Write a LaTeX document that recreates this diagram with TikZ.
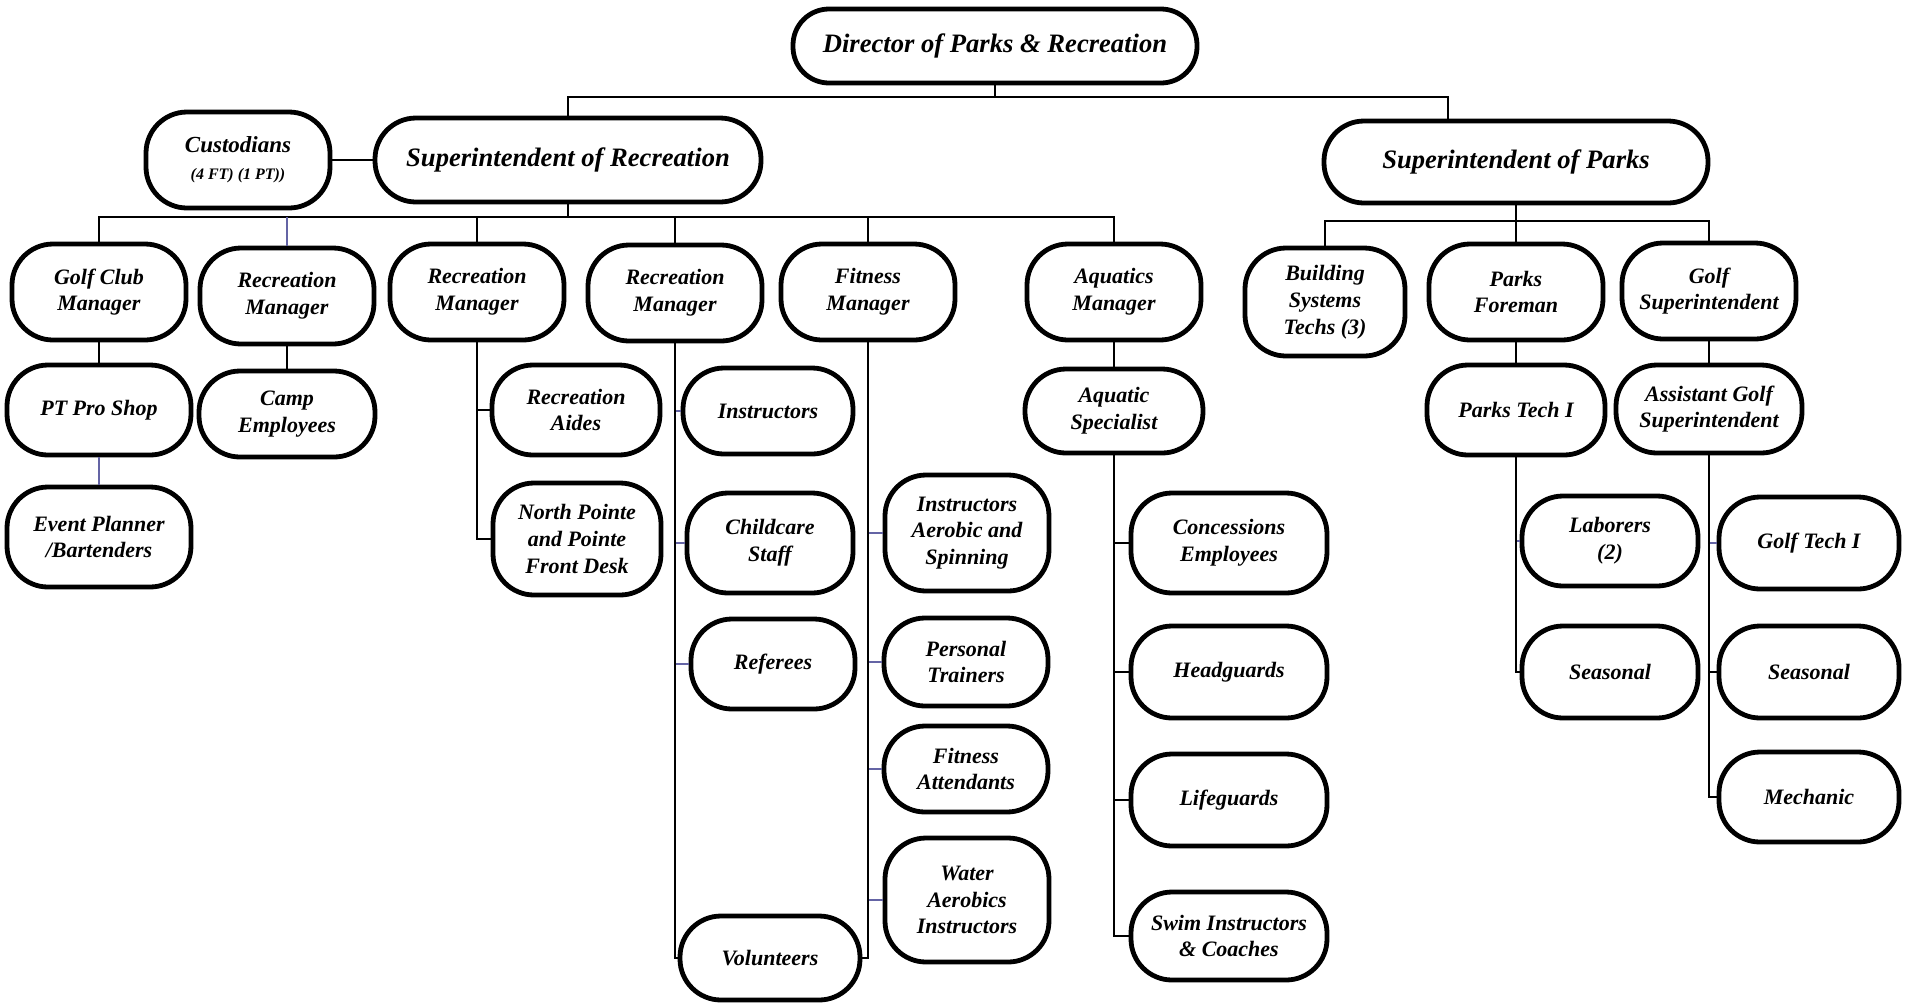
\documentclass[tikz,border=0pt]{standalone}
\usepackage{fontspec}
\setmainfont{Liberation Serif}
\definecolor{linkblue}{RGB}{100,100,165}

\begin{document}
\begin{tikzpicture}[x=0.5pt, y=-0.5pt,
box/.style={draw, line width=2.4pt, rounded corners=20.5pt, align=center, inner sep=1pt,
  font=\bfseries\itshape\fontsize{11}{13.4}\selectfont},
head/.style={box, rounded corners=18pt, font=\bfseries\itshape\fontsize{13.3}{16}\selectfont},
link/.style={line width=0.9pt},
softlink/.style={link, draw=linkblue}]

\useasboundingbox (0,0) rectangle (1908,1003);

% top
\node[head, minimum width=202pt, minimum height=37pt] (director) at (995,46) {Director of Parks \& Recreation};
\node[head, rounded corners=20.5pt, minimum width=193pt, minimum height=42pt] (suprec) at (568,160) {Superintendent of Recreation};
\node[head, rounded corners=20pt, minimum width=192pt, minimum height=41pt] (supparks) at (1516,162) {Superintendent of Parks};
\node[box, minimum width=92pt, minimum height=48pt] (cust) at (238,160) {\fontsize{11.5}{12}\selectfont Custodians\\{\fontsize{8}{9}\selectfont (4 FT) (1 PT))}};

% managers
\node[box, minimum width=87pt, minimum height=48pt] (golfmgr) at (99,292) {Golf Club\\Manager};
\node[box, minimum width=87pt, minimum height=48pt] (recmgrA) at (287,296) {Recreation\\Manager};
\node[box, minimum width=87pt, minimum height=48pt] (recmgrB) at (477,292) {Recreation\\Manager};
\node[box, minimum width=87pt, minimum height=48pt] (recmgrC) at (675,293) {Recreation\\Manager};
\node[box, minimum width=87pt, minimum height=48pt] (fitmgr) at (868,292) {Fitness\\Manager};
\node[box, minimum width=87pt, minimum height=48pt] (aquamgr) at (1114,292) {Aquatics\\Manager};
\node[box, minimum width=80pt, minimum height=54pt] (bldg) at (1325,302) {Building\\Systems\\Techs (3)};
\node[box, minimum width=87pt, minimum height=48pt] (foreman) at (1516,292) {Parks\\Foreman};
\node[box, minimum width=87pt, minimum height=48pt] (golfsup) at (1709,291) {Golf\\Superintendent};

% staff
\node[box, minimum width=92pt, minimum height=45pt] (proshop) at (99,410) {PT Pro Shop};
\node[box, minimum width=92pt, minimum height=50pt] (events) at (99,537) {Event Planner\\/Bartenders};
\node[box, minimum width=88pt, minimum height=43pt] (camp) at (287,414) {Camp\\Employees};
\node[box, minimum width=84pt, minimum height=45pt] (aides) at (576,410) {Recreation\\Aides};
\node[box, minimum width=84pt, minimum height=56pt] (northpt) at (577,539) {North Pointe\\and Pointe\\Front Desk};
\node[box, minimum width=85pt, minimum height=43pt] (instr) at (768,411) {Instructors};
\node[box, minimum width=83pt, minimum height=50pt] (childcare) at (770,543) {Childcare\\Staff};
\node[box, minimum width=82pt, minimum height=45pt] (referees) at (773,664) {Referees};
\node[box, minimum width=90pt, minimum height=42pt] (volunteers) at (770,958) {Volunteers};
\node[box, minimum width=82pt, minimum height=58pt] (aerobic) at (967,533) {Instructors\\Aerobic and\\Spinning};
\node[box, minimum width=82pt, minimum height=44pt] (trainers) at (966,662) {Personal\\Trainers};
\node[box, minimum width=82pt, minimum height=43pt] (attend) at (966,769) {Fitness\\Attendants};
\node[box, minimum width=82pt, minimum height=62pt] (waterinstr) at (967,900) {Water\\Aerobics\\Instructors};
\node[box, minimum width=89pt, minimum height=42pt] (aquaspec) at (1114,411) {Aquatic\\Specialist};
\node[box, minimum width=98pt, minimum height=50pt] (concess) at (1229,543) {Concessions\\Employees};
\node[box, minimum width=98pt, minimum height=46pt] (headguards) at (1229,672) {Headguards};
\node[box, minimum width=98pt, minimum height=46pt] (lifeguards) at (1229,800) {Lifeguards};
\node[box, minimum width=98pt, minimum height=44pt] (swim) at (1229,936) {Swim Instructors\\\& Coaches};
\node[box, minimum width=89pt, minimum height=45pt] (parkstech) at (1516,410) {Parks Tech I};
\node[box, minimum width=93pt, minimum height=44pt] (asstgolf) at (1709,409) {Assistant Golf\\Superintendent};
\node[box, minimum width=88pt, minimum height=45pt] (laborers) at (1610,541) {Laborers\\(2)};
\node[box, minimum width=88pt, minimum height=46pt] (seasonalP) at (1610,672) {Seasonal};
\node[box, minimum width=90pt, minimum height=46pt] (golftech) at (1809,543) {Golf Tech I};
\node[box, minimum width=90pt, minimum height=46pt] (seasonalG) at (1809,672) {Seasonal};
\node[box, minimum width=90pt, minimum height=45pt] (mechanic) at (1809,797) {Mechanic};

\coordinate (topbus) at (0,97);
\coordinate (recbus) at (0,217);
\coordinate (parkbus) at (0,221);
\coordinate (parksdrop) at (1448,97);

% links
\draw[link] (director.south) -- (director.south |- topbus) -| (suprec.north);
\draw[link] (director.south |- topbus) -- (parksdrop) -- (parksdrop |- supparks.north);
\draw[link] (cust.east) -- (suprec.west);
\foreach \n in {golfmgr,recmgrB,recmgrC,fitmgr,aquamgr}
  \draw[link] (suprec.south) -- (suprec.south |- recbus) -| (\n.north);
\draw[softlink] (recmgrA.north) -- (recmgrA.north |- recbus);
\foreach \n in {bldg,foreman,golfsup}
  \draw[link] (supparks.south) -- (supparks.south |- parkbus) -| (\n.north);

\draw[link] (golfmgr) -- (proshop);
\draw[softlink] (proshop) -- (events);
\draw[link] (recmgrA) -- (camp);
\foreach \n in {aides,northpt}
  \draw[link] (recmgrB.south) |- (\n.west);
\foreach \n in {instr,childcare,referees}
  \draw[softlink] (recmgrC.south) |- (\n.west);
\draw[link] (recmgrC.south) |- (volunteers.west);
\foreach \n in {aerobic,trainers,attend,waterinstr}
  \draw[softlink] (fitmgr.south) |- (\n.west);
\draw[link] (fitmgr.south) |- (volunteers.east);
\draw[link] (aquamgr) -- (aquaspec);
\foreach \n in {concess,headguards,lifeguards,swim}
  \draw[link] (aquaspec.south) |- (\n.west);
\draw[link] (foreman) -- (parkstech);
\draw[link] (golfsup) -- (asstgolf);
\draw[softlink] (parkstech.south) |- (laborers.west);
\draw[link] (parkstech.south) |- (seasonalP.west);
\draw[softlink] (asstgolf.south) |- (golftech.west);
\foreach \n in {seasonalG,mechanic}
  \draw[link] (asstgolf.south) |- (\n.west);

\end{tikzpicture}
\end{document}
